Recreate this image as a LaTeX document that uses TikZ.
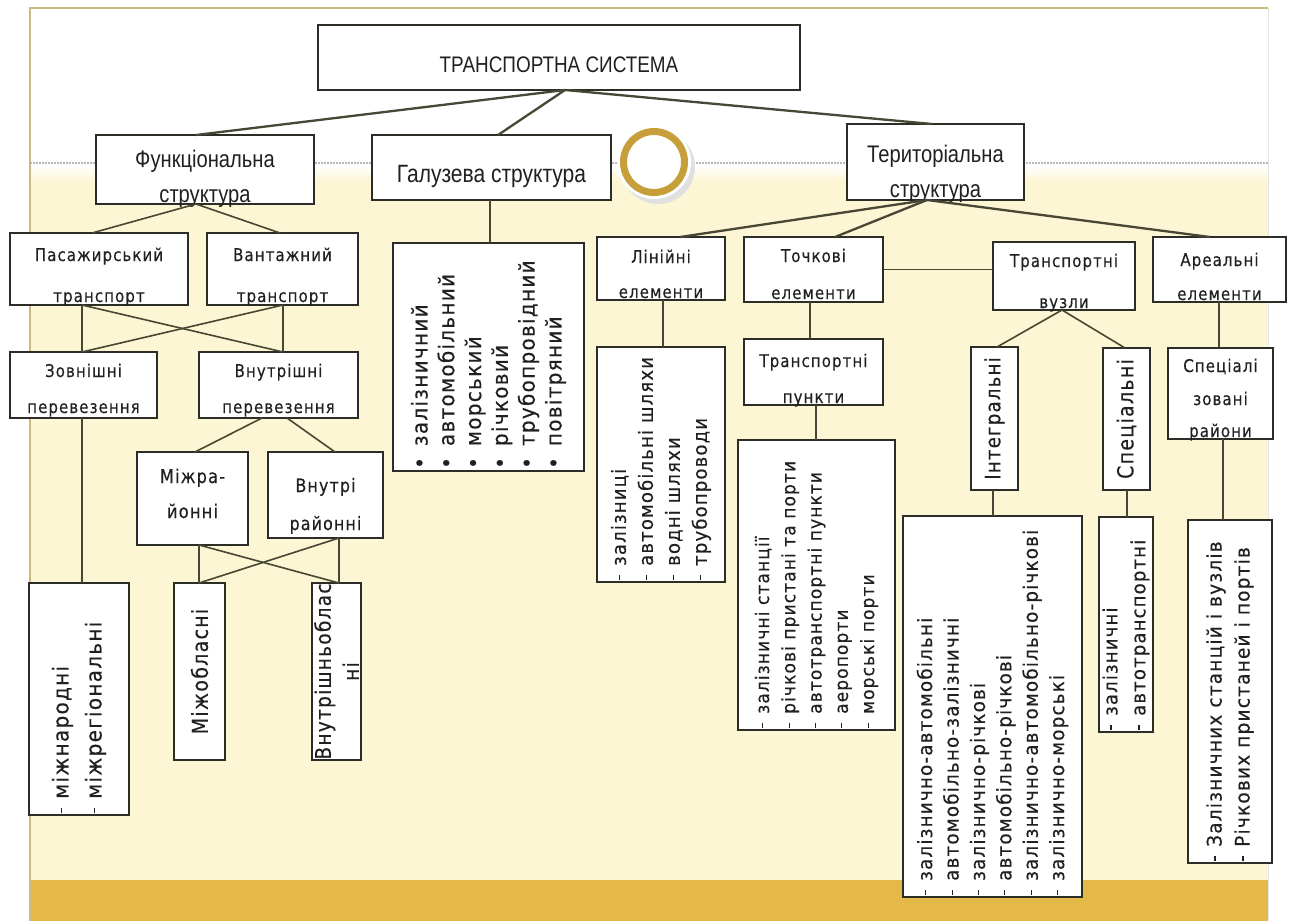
\documentclass[tikz,border=0pt]{standalone}
\usepackage{fontspec}
\usetikzlibrary{shadows}
\newfontfamily\lblfont{DejaVu Sans}[LetterSpace=6, FakeStretch=0.86, FakeBold=0.3]
\newfontfamily\listfont{DejaVu Sans}[LetterSpace=6, FakeStretch=0.92, FakeBold=0.3]
\newfontfamily\narrowfont{Liberation Sans}[FakeStretch=0.84]
\definecolor{slideyellow}{RGB}{253,246,212}
\definecolor{slidegold}{RGB}{229,184,74}
\definecolor{framec}{RGB}{205,186,128}
\definecolor{boxc}{RGB}{45,45,40}
\definecolor{linec}{RGB}{72,70,52}
\definecolor{txtc}{RGB}{32,32,32}
\definecolor{ringc}{RGB}{198,158,58}
\newcommand\listtick{\rule[0.3em]{5pt}{1.1pt}\hspace{9pt}}
\newcommand\listdot{\textbullet\hspace{11pt}}

\begin{document}
\begin{tikzpicture}[x=1pt,y=-1pt,
  box/.style={draw=boxc, line width=1.8pt, fill=white, inner sep=0pt, outer sep=0pt,
    drop shadow={shadow xshift=1.2pt, shadow yshift=-1.4pt, fill=black!45}},
  lbl/.style={inner sep=0pt, anchor=base, text=txtc, font=\lblfont\fontsize{17.5}{20}\selectfont},
  nlbl/.style={inner sep=0pt, anchor=base, text=txtc, font=\narrowfont\fontsize{24}{28}\selectfont},
  rlbl/.style={rotate=90, inner sep=0pt, align=center, text=txtc, font=\lblfont\fontsize{22}{28}\selectfont},
  listtxt/.style={rotate=90, anchor=west, align=left, inner xsep=2pt, inner ysep=0pt, text=txtc},
  conn/.style={draw=linec, line width=1.6pt},
  mainconn/.style={draw=linec, line width=2.3pt}
]
\useasboundingbox (0,0) rectangle (1296,921);
\fill[white] (0,0) rectangle (1296,921);

% slide background
\fill[slideyellow] (30,180) rectangle (1268,880);
\shade[top color=white, bottom color=slideyellow] (30,166) rectangle (1268,181);
\fill[slidegold] (30,880) rectangle (1268,921);
\draw[framec, line width=1.2pt] (30,921) -- (30,8) -- (1268,8);
\draw[black!10, line width=0.8pt] (1268,8) -- (1268,921);
\draw[gray!55, line width=1.8pt, dash pattern=on 1.5pt off 1.5pt] (30,163) -- (1268,163);

% decorative ring
\fill[black!12] (658,167) circle (37pt);
\fill[white] (654,162) circle (37pt);
\draw[ringc, line width=7pt, fill=white] (654,162) circle (30.5pt);

% boxes
\node[box, minimum width=482pt, minimum height=65pt] (title) at (559,57.5) {};
\node[box, minimum width=218pt, minimum height=69pt] (fun) at (205,169.5) {};
\node[box, minimum width=239pt, minimum height=65pt] (gal) at (491.5,167.5) {};
\node[box, minimum width=177pt, minimum height=76pt] (ter) at (935.5,162) {};
\node[box, minimum width=178pt, minimum height=72pt] (pas) at (99,269) {};
\node[box, minimum width=151pt, minimum height=72pt] (vant) at (282.5,269) {};
\node[box, minimum width=147pt, minimum height=66pt] (zovn) at (83.5,385) {};
\node[box, minimum width=159pt, minimum height=66pt] (vnut) at (278.5,385) {};
\node[box, minimum width=111pt, minimum height=93pt] (mizhr) at (192.5,498.5) {};
\node[box, minimum width=115pt, minimum height=86pt] (vnutr) at (325.5,495) {};
\node[box, minimum width=100pt, minimum height=232pt] (mizhn) at (79,699) {};
\node[box, minimum width=51pt, minimum height=177pt] (mizho) at (199.5,671.5) {};
\node[box, minimum width=49pt, minimum height=177pt] (vnuto) at (336.5,671.5) {};
\node[box, minimum width=191pt, minimum height=228pt] (gall) at (488.5,357) {};
\node[box, minimum width=128pt, minimum height=63pt] (lin) at (661,268.5) {};
\node[box, minimum width=128pt, minimum height=235pt] (linl) at (661,464.5) {};
\node[box, minimum width=139pt, minimum height=65pt] (toch) at (813.5,269.5) {};
\node[box, minimum width=139pt, minimum height=66pt] (tpunk) at (813.5,372) {};
\node[box, minimum width=157pt, minimum height=290pt] (tochl) at (816.5,585) {};
\node[box, minimum width=142pt, minimum height=68pt] (tvuz) at (1064,276) {};
\node[box, minimum width=47pt, minimum height=143pt] (integ) at (994.5,418.5) {};
\node[box, minimum width=47pt, minimum height=142pt] (spec) at (1126.5,419) {};
\node[box, minimum width=179pt, minimum height=381pt] (integl) at (992.5,706.5) {};
\node[box, minimum width=54pt, minimum height=215pt] (specl) at (1126,624.5) {};
\node[box, minimum width=133pt, minimum height=65pt] (areal) at (1219.5,269.5) {};
\node[box, minimum width=105pt, minimum height=91pt] (spz) at (1220.5,393.5) {};
\node[box, minimum width=84pt, minimum height=343pt] (areall) at (1230,691.5) {};

% horizontal labels
\node[nlbl, font=\narrowfont\fontsize{22.5}{26}\selectfont] (title-a) at (559,72) {ТРАНСПОРТНА СИСТЕМА};
\node[nlbl] (fun-a) at (205,167) {Функціональна};
\node[nlbl] (fun-b) at (205,202) {структура};
\node[nlbl, font=\narrowfont\fontsize{25}{28}\selectfont] (gal-a) at (491.5,182) {Галузева структура};
\node[nlbl] (ter-a) at (935.5,162) {Територіальна};
\node[nlbl] (ter-b) at (935.5,197) {структура};
\node[lbl] (pas-a) at (99,261) {Пасажирський};
\node[lbl] (pas-b) at (99,302) {транспорт};
\node[lbl] (vant-a) at (282.5,261) {Вантажний};
\node[lbl] (vant-b) at (282.5,302) {транспорт};
\node[lbl] (zovn-a) at (83.5,377) {Зовнішні};
\node[lbl] (zovn-b) at (83.5,413) {перевезення};
\node[lbl] (vnut-a) at (278.5,377) {Внутрішні};
\node[lbl] (vnut-b) at (278.5,413) {перевезення};
\node[lbl, font=\lblfont\fontsize{19}{20}\selectfont] (mizhr-a) at (192.5,483) {Міжра-};
\node[lbl, font=\lblfont\fontsize{19}{20}\selectfont] (mizhr-b) at (192.5,518) {йонні};
\node[lbl, font=\lblfont\fontsize{18.5}{20}\selectfont] (vnutr-a) at (325.5,492) {Внутрі};
\node[lbl, font=\lblfont\fontsize{18.5}{20}\selectfont] (vnutr-b) at (325.5,530) {районні};
\node[lbl] (lin-a) at (661,263) {Лінійні};
\node[lbl] (lin-b) at (661,298) {елементи};
\node[lbl] (toch-a) at (813.5,262) {Точкові};
\node[lbl] (toch-b) at (813.5,299) {елементи};
\node[lbl] (tpunk-a) at (813.5,367) {Транспортні};
\node[lbl] (tpunk-b) at (813.5,403) {пункти};
\node[lbl] (tvuz-a) at (1064,267) {Транспортні};
\node[lbl] (tvuz-b) at (1064,308) {вузли};
\node[lbl] (areal-a) at (1219.5,266) {Ареальні};
\node[lbl] (areal-b) at (1219.5,300) {елементи};
\node[lbl] (spz-a) at (1220.5,372) {Спеціалі};
\node[lbl] (spz-b) at (1220.5,405) {зовані};
\node[lbl] (spz-c) at (1220.5,437) {райони};

% rotated labels
\node[rlbl] (mizho-t) at (mizho) {Міжобласні};
\node[rlbl, font=\lblfont\fontsize{21.5}{28}\selectfont] (vnuto-t) at (vnuto) {Внутрішньоблас\\ні};
\node[rlbl, font=\lblfont\fontsize{21}{28}\selectfont] (integ-t) at (integ) {Інтегральні};
\node[rlbl] (spec-t) at (spec) {Спеціальні};

% rotated lists
\node[listtxt, font=\listfont\fontsize{21.7}{33}\selectfont] (mizhn-t) at (mizhn.south)
  {\listtick міжнародні\\ \listtick міжрегіональні};
\node[listtxt, font=\listfont\fontsize{21.7}{26.8}\selectfont] (gall-t) at (gall.south)
  {\listdot залізничний\\ \listdot автомобільний\\ \listdot морський\\
   \listdot річковий\\ \listdot трубопровідний\\ \listdot повітряний};
\node[listtxt, font=\listfont\fontsize{19.6}{27}\selectfont] (linl-t) at (linl.south)
  {\listtick залізниці\\ \listtick автомобільні шляхи\\ \listtick водні шляхи\\ \listtick трубопроводи};
\node[listtxt, font=\listfont\fontsize{18.5}{26.3}\selectfont] (tochl-t) at (tochl.south)
  {\listtick залізничні станції\\ \listtick річкові пристані та порти\\
   \listtick автотранспортні пункти\\ \listtick аеропорти\\ \listtick морські порти};
\node[listtxt, font=\listfont\fontsize{19.9}{26.4}\selectfont] (integl-t) at (integl.south)
  {\listtick залізнично-автомобільні\\ \listtick автомобільно-залізничні\\
   \listtick залізнично-річкові\\ \listtick автомобільно-річкові\\
   \listtick залізнично-автомобільно-річкові\\ \listtick залізнично-морські};
\node[listtxt, font=\listfont\fontsize{19.6}{28}\selectfont] (specl-t) at (specl.south)
  {\listtick залізничні\\ \listtick автотранспортні};
\node[listtxt, font=\listfont\fontsize{20.1}{28}\selectfont] (areall-t) at (areall.south)
  {\listtick Залізничних станцій і вузлів\\ \listtick Річкових пристаней і портів};

% connectors: top level
\draw[mainconn] ([xshift=6pt]title.south) -- ([xshift=-9pt]fun.north);
\draw[mainconn] ([xshift=6pt]title.south) -- ([xshift=6.5pt]gal.north);
\draw[mainconn] ([xshift=6pt]title.south) -- ([xshift=-3.5pt]ter.north);

% functional branch
\draw[conn] ([xshift=-9pt]fun.south) -- ([xshift=-7pt]pas.north);
\draw[conn] ([xshift=-9pt]fun.south) -- ([xshift=-2.5pt]vant.north);
\draw[conn] ([xshift=-17pt]pas.south) -- ([xshift=-1.5pt]zovn.north);
\draw[conn] ([xshift=-17pt]pas.south) -- ([xshift=4.5pt]vnut.north);
\draw[conn] ([xshift=0.5pt]vant.south) -- ([xshift=4.5pt]vnut.north);
\draw[conn] ([xshift=0.5pt]vant.south) -- ([xshift=-1.5pt]zovn.north);
\draw[conn] ([xshift=-16.5pt]vnut.south) -- ([xshift=2.5pt]mizhr.north);
\draw[conn] ([xshift=8.5pt]vnut.south) -- ([xshift=9.5pt]vnutr.north);
\draw[conn] ([xshift=-1.5pt]zovn.south) -- ([xshift=3pt]mizhn.north);
\draw[conn] ([xshift=6.5pt]mizhr.south) -- ([xshift=-0.5pt]mizho.north);
\draw[conn] ([xshift=6.5pt]mizhr.south) -- ([xshift=2.5pt]vnuto.north);
\draw[conn] ([xshift=13.5pt]vnutr.south) -- ([xshift=2.5pt]vnuto.north);
\draw[conn] ([xshift=13.5pt]vnutr.south) -- ([xshift=-0.5pt]mizho.north);

% branch structure
\draw[conn] ([xshift=-1.5pt]gal.south) -- ([xshift=1.5pt]gall.north);

% territorial branch
\draw[mainconn] ([xshift=-8.5pt]ter.south) -- ([xshift=19pt]lin.north);
\draw[mainconn] ([xshift=-8.5pt]ter.south) -- ([xshift=21.5pt]toch.north);
\draw[mainconn] ([xshift=-8.5pt]ter.south) -- ([xshift=-9.5pt]areal.north);
\draw[conn] ([xshift=2pt]lin.south) -- ([xshift=2pt]linl.north);
\draw[conn] ([xshift=-3.5pt]toch.south) -- ([xshift=-3.5pt]tpunk.north);
\draw[conn] (toch.east) -- (toch.east -| tvuz.west);
\draw[conn] ([xshift=2.5pt]tpunk.south) -- ([xshift=-0.5pt]tochl.north);
\draw[conn] ([xshift=-2pt]tvuz.south) -- ([xshift=2.5pt]integ.north);
\draw[conn] ([xshift=-2pt]tvuz.south) -- ([xshift=-1.5pt]spec.north);
\draw[conn] ([xshift=-1.5pt]integ.south) -- ([xshift=0.5pt]integl.north);
\draw[conn] ([xshift=0.5pt]spec.south) -- ([xshift=1pt]specl.north);
\draw[conn] ([xshift=-0.5pt]areal.south) -- ([xshift=-1.5pt]spz.north);
\draw[conn] ([xshift=2.5pt]spz.south) -- ([xshift=-7pt]areall.north);
\end{tikzpicture}
\end{document}
